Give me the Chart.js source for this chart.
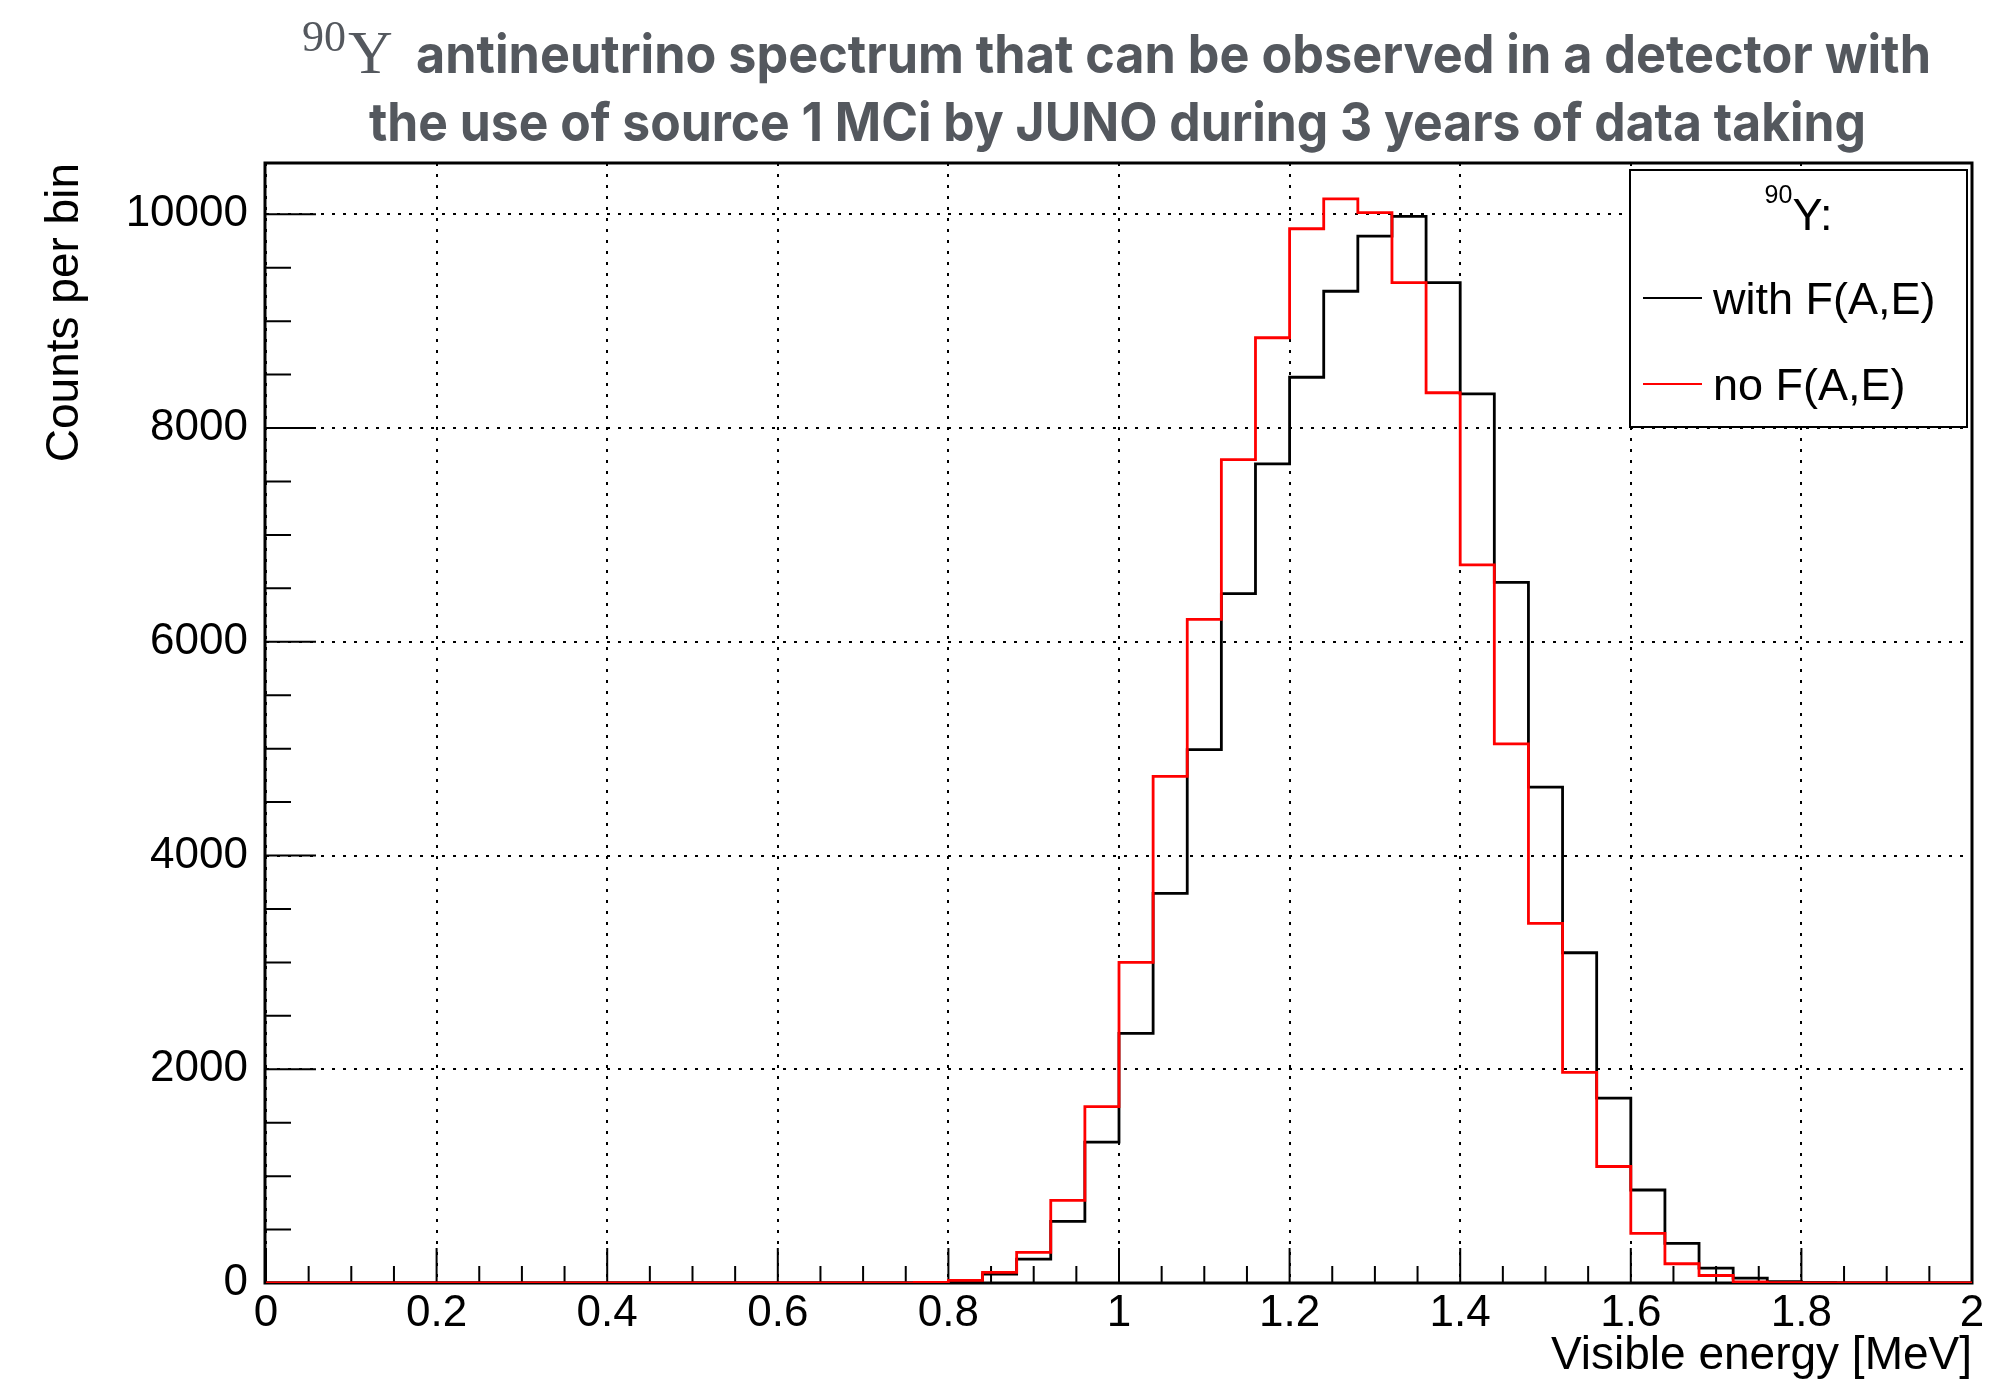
<!DOCTYPE html>
<html>
<head>
<meta charset="utf-8">
<script src="https://cdn.jsdelivr.net/npm/chart.js@4.4.1/dist/chart.umd.min.js"></script>
<style>
html,body{margin:0;padding:0;background:#fff;}
canvas{display:block;}
</style>
</head>
<body>
<canvas id="c" width="2014" height="1384"></canvas>
<script>
// ---------------- data ----------------
const binLowEdges = [
  0.00,0.04,0.08,0.12,0.16,0.20,0.24,0.28,0.32,0.36,
  0.40,0.44,0.48,0.52,0.56,0.60,0.64,0.68,0.72,0.76,
  0.80,0.84,0.88,0.92,0.96,1.00,1.04,1.08,1.12,1.16,
  1.20,1.24,1.28,1.32,1.36,1.40,1.44,1.48,1.52,1.56,
  1.60,1.64,1.68,1.72,1.76,1.80,1.84,1.88,1.92,1.96
];
const lastBinUpperEdge = 2.00;

const withFAE = [
  0,0,0,0,0,0,0,0,0,0,
  0,0,0,0,0,0,0,0,0,2,
  15,84,224,576,1318,2335,3645,4990,6450,7665,
  8475,9280,9795,9980,9360,8320,6555,4640,3090,1730,
  870,370,140,45,12,4,1,0,0,0
];
const noFAE = [
  0,0,0,0,0,0,0,0,0,0,
  0,0,0,0,0,0,0,0,0,5,
  25,100,287,773,1651,3000,4740,6210,7705,8845,
  9865,10145,10015,9360,8330,6720,5045,3365,1970,1090,
  465,180,70,10,3,1,0,0,0,0
];

const seriesLabels = ['with F(A,E)', 'no F(A,E)'];
const seriesColors = ['#000000', '#ff0000'];

const xTicks = [0, 0.2, 0.4, 0.6, 0.8, 1.0, 1.2, 1.4, 1.6, 1.8, 2.0];
const xTickLabels = ['0','0.2','0.4','0.6','0.8','1','1.2','1.4','1.6','1.8','2'];
const yTicks = [0, 2000, 4000, 6000, 8000, 10000];
const yTickLabels = ['0','2000','4000','6000','8000','10000'];
const xMin = 0, xMax = 2, yMin = 0, yMax = 10480;
const xMinorStep = 0.05, yMinorStep = 500;

const titleLine1Super = '90';
const titleLine1Iso = 'Y';
const titleLine1Text = 'antineutrino spectrum that can be observed in a detector with';
const titleLine2Text = 'the use of source 1 MCi by JUNO during 3 years of data taking';
const legendHeaderSuper = '90';
const legendHeaderText = 'Y:';
const xTitle = 'Visible energy [MeV]';
const yTitle = 'Counts per bin';

// histogram outline points built from bin edges and contents
function histPoints(vals) {
  const pts = binLowEdges.map((e, i) => ({x: e, y: vals[i]}));
  pts.push({x: lastBinUpperEdge, y: vals[vals.length - 1]});
  return pts;
}

const SANS = '"Liberation Sans", Arial, Helvetica, sans-serif';
const SERIF = '"Liberation Serif", "Times New Roman", serif';
const TITLE_FONT = 'Inter, "Noto Sans", sans-serif';

function drawScaledText(ctx, text, x, y, targetW) {
  const w = ctx.measureText(text).width;
  const sx = targetW / w;
  ctx.save();
  ctx.translate(x, y);
  ctx.scale(sx, 1);
  ctx.fillText(text, 0, 0);
  ctx.restore();
}

const rootStyle = {
  id: 'rootStyle',
  beforeDatasetsDraw(chart) {
    const {ctx, chartArea: a, scales: {x, y}} = chart;
    ctx.save();
    ctx.strokeStyle = '#000';
    // ticks (inward, ROOT style)
    ctx.lineWidth = 2;
    ctx.beginPath();
    const nx = Math.round((xMax - xMin) / xMinorStep);
    for (let k = 0; k <= nx; k++) {
      const px = x.getPixelForValue(xMin + k * xMinorStep);
      const len = (k % 4 === 0) ? 35 : 17;
      ctx.moveTo(px, a.bottom);
      ctx.lineTo(px, a.bottom - len);
    }
    for (let k = 0; k * yMinorStep <= yMax; k++) {
      const py = y.getPixelForValue(k * yMinorStep);
      const len = (k % 4 === 0) ? 50 : 25;
      ctx.moveTo(a.left, py);
      ctx.lineTo(a.left + len, py);
    }
    ctx.stroke();
    // frame
    ctx.lineWidth = 3;
    ctx.strokeRect(a.left - 1, a.top, a.right - a.left + 1, a.bottom - a.top);
    ctx.restore();
  },
  afterDraw(chart) {
    const {ctx, chartArea: a} = chart;
    ctx.save();
    // ---------- legend ----------
    const L = {left: a.right - 342, top: a.top + 7, right: a.right - 5, bottom: a.top + 264};
    ctx.fillStyle = '#fff';
    ctx.fillRect(L.left, L.top, L.right - L.left, L.bottom - L.top);
    ctx.strokeStyle = '#000';
    ctx.lineWidth = 2;
    ctx.strokeRect(L.left, L.top, L.right - L.left, L.bottom - L.top);
    ctx.fillStyle = '#000';
    ctx.textBaseline = 'alphabetic';
    ctx.textAlign = 'left';
    ctx.font = '25px ' + SANS;
    const ws = ctx.measureText(legendHeaderSuper).width;
    ctx.font = '45px ' + SANS;
    const wh = ctx.measureText(legendHeaderText).width;
    const cx = (L.left + L.right) / 2;
    const hx = cx - (ws + wh) / 2;
    ctx.font = '25px ' + SANS;
    ctx.fillText(legendHeaderSuper, hx, L.top + 33);
    ctx.font = '45px ' + SANS;
    ctx.fillText(legendHeaderText, hx + ws, L.top + 60);
    const rows = [L.top + 128, L.top + 214];
    chart.data.datasets.forEach((ds, i) => {
      const ry = rows[i];
      ctx.strokeStyle = ds.borderColor;
      ctx.lineWidth = 2;
      ctx.beginPath();
      ctx.moveTo(L.left + 13, ry);
      ctx.lineTo(L.left + 72, ry);
      ctx.stroke();
      ctx.fillStyle = '#000';
      ctx.font = '45px ' + SANS;
      ctx.fillText(ds.label, L.left + 83, ry + 16);
    });
    // ---------- title ----------
    const tcx = (a.left + a.right) / 2;
    ctx.fillStyle = '#54585e';
    ctx.font = '44px ' + SERIF;
    ctx.fillText(titleLine1Super, tcx - 817, 51);
    ctx.font = '62px ' + SERIF;
    ctx.fillText(titleLine1Iso, tcx - 771, 73);
    ctx.font = 'bold 53px ' + TITLE_FONT;
    drawScaledText(ctx, titleLine1Text, tcx - 703, 73, 1515);
    drawScaledText(ctx, titleLine2Text, tcx - 750, 141, 1497);
    ctx.restore();
  }
};

function build() {
  Chart.defaults.font.family = SANS;
  Chart.defaults.color = '#000';
  new Chart(document.getElementById('c'), {
    type: 'line',
    data: {
      datasets: [
        {label: seriesLabels[0], data: histPoints(withFAE), borderColor: seriesColors[0],
         borderWidth: 2.8, stepped: 'before', pointRadius: 0, fill: false, order: 1},
        {label: seriesLabels[1], data: histPoints(noFAE), borderColor: seriesColors[1],
         borderWidth: 2.8, stepped: 'before', pointRadius: 0, fill: false, order: 0}
      ]
    },
    options: {
      responsive: false,
      devicePixelRatio: 1,
      animation: false,
      events: [],
      layout: {padding: {top: 163, right: 42, left: 0, bottom: 0}},
      plugins: {legend: {display: false}, title: {display: false}, tooltip: {enabled: false}},
      scales: {
        x: {
          type: 'linear', min: xMin, max: xMax,
          afterFit(s) { s.height = 101; },
          afterBuildTicks(s) { s.ticks = xTicks.map(v => ({value: v})); },
          ticks: {
            callback: (v, i) => xTickLabels[i],
            font: {size: 44, lineHeight: 1}, padding: 9, maxRotation: 0, autoSkip: false, color: '#000'
          },
          grid: {color: '#000', lineWidth: 2, drawTicks: false},
          border: {display: false, dash: [3, 8]},
          title: {display: true, text: xTitle, align: 'end', color: '#000',
                  font: {size: 46, lineHeight: 1}, padding: {top: 0, bottom: 5}}
        },
        y: {
          type: 'linear', min: yMin, max: yMax,
          afterFit(s) { s.width = 266; },
          afterBuildTicks(s) { s.ticks = yTicks.map(v => ({value: v})); },
          ticks: {
            callback: (v, i) => yTickLabels[i],
            font: {size: 44, lineHeight: 1}, padding: 18, autoSkip: false, color: '#000'
          },
          grid: {color: '#000', lineWidth: 2, drawTicks: false},
          border: {display: false, dash: [3, 8]},
          title: {display: true, text: yTitle, align: 'end', color: '#000',
                  font: {size: 46, lineHeight: 1}, padding: {top: 42, bottom: 0}}
        }
      }
    },
    plugins: [rootStyle]
  });
}

const fontLoads = [
  'bold 53px Inter', '44px "Liberation Sans"', '44px "Liberation Serif"'
].map(f => document.fonts.load(f).catch(() => null));
Promise.all(fontLoads).then(build, build);
</script>
</body>
</html>
